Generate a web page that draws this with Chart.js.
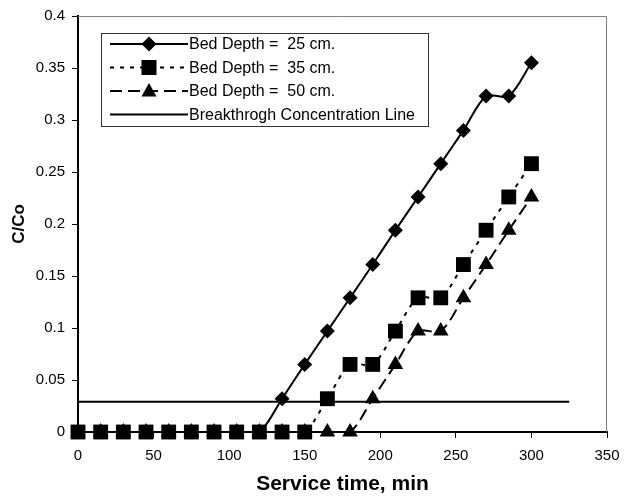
<!DOCTYPE html>
<html>
<head>
<meta charset="utf-8">
<script src="https://cdn.jsdelivr.net/npm/chart.js@4/dist/chart.umd.min.js"></script>
<style>
  html, body { margin: 0; padding: 0; background: #fff; }
  #wrap { width: 635px; height: 501px; }
</style>
</head>
<body>
<div id="wrap"><canvas id="bedChart" width="635" height="501"></canvas></div>
<script>
// DATA
const times = [0, 15, 30, 45, 60, 75, 90, 105, 120, 135, 150, 165, 180, 195, 210, 225, 240, 255, 270, 285, 300];
const depth25 = [0, 0, 0, 0, 0, 0, 0, 0, 0, 0.032, 0.065, 0.097, 0.129, 0.161, 0.194, 0.226, 0.258, 0.290, 0.323, 0.323, 0.355];
const depth35 = [0, 0, 0, 0, 0, 0, 0, 0, 0, 0, 0, 0.032, 0.065, 0.065, 0.097, 0.129, 0.129, 0.161, 0.194, 0.226, 0.258];
const depth50 = [0, 0, 0, 0, 0, 0, 0, 0, 0, 0, 0, 0, 0, 0.032, 0.065, 0.097, 0.097, 0.129, 0.161, 0.194, 0.226];
const breakX = [0, 325];
const breakY = [0.029, 0.029];
const xTicks = [0, 50, 100, 150, 200, 250, 300, 350];
const yTicks = [0, 0.05, 0.1, 0.15, 0.2, 0.25, 0.3, 0.35, 0.4];

const FONT = "'Liberation Sans', Arial, sans-serif";

function pts(xs, ys){
  return xs.map((x, i) => ({x: x, y: ys[i]}));
}

// marker drawing for legend
function marker(ctx, style, x, y){
  ctx.save();
  ctx.fillStyle = "#000";
  ctx.beginPath();
  if(style === "rectRot"){
    ctx.moveTo(x, y - 7.5); ctx.lineTo(x + 7.5, y); ctx.lineTo(x, y + 7.5); ctx.lineTo(x - 7.5, y);
  } else if(style === "rect"){
    ctx.rect(x - 7.5, y - 7.5, 15, 15);
  } else if(style === "triangle"){
    ctx.moveTo(x, y - 8); ctx.lineTo(x + 7.5, y + 5.5); ctx.lineTo(x - 7.5, y + 5.5);
  }
  ctx.closePath();
  if(style) ctx.fill();
  ctx.restore();
}

// LEGEND INSIDE PLOT
const boxLegend = {
  id: "boxLegend",
  afterDatasetsDraw(chart){
    const ctx = chart.ctx;
    const left = 101, top = 33, w = 327, h = 93;
    ctx.save();
    ctx.fillStyle = "#fff";
    ctx.fillRect(left, top, w, h);
    ctx.strokeStyle = "#333";
    ctx.lineWidth = 1;
    ctx.strokeRect(left + 0.5, top + 0.5, w, h);
    chart.data.datasets.forEach((ds, r) => {
      const y = 44 + r * 23.5;
      ctx.save();
      ctx.strokeStyle = "#000";
      ctx.lineWidth = ds.borderWidth;
      ctx.setLineDash(ds.borderDash || []);
      ctx.beginPath();
      ctx.moveTo(110, y);
      ctx.lineTo(188, y);
      ctx.stroke();
      ctx.restore();
      if(ds.pointRadius > 0) marker(ctx, ds.pointStyle, 149, y);
      ctx.fillStyle = "#000";
      ctx.font = "16px " + FONT;
      ctx.textAlign = "left";
      ctx.textBaseline = "middle";
      ctx.fillText(ds.label, 189, y + 1);
    });
    ctx.restore();
  }
};

// FRAME (grey top/right)
const frame = {
  id: "frame",
  beforeDatasetsDraw(chart){
    const a = chart.chartArea;
    const ctx = chart.ctx;
    ctx.save();
    ctx.strokeStyle = "#808080";
    ctx.lineWidth = 1;
    ctx.beginPath();
    ctx.moveTo(a.left, a.top + 0.5);
    ctx.lineTo(a.right - 0.5, a.top + 0.5);
    ctx.lineTo(a.right - 0.5, a.bottom);
    ctx.stroke();
    ctx.restore();
  }
};

new Chart(document.getElementById("bedChart"), {
  type: "scatter",
  data: {
    datasets: [
      {
        label: "Bed Depth =  25 cm.",
        data: pts(times, depth25),
        showLine: true,
        borderColor: "#000",
        backgroundColor: "#000",
        borderWidth: 2,
        pointStyle: "rectRot",
        pointRadius: 7.5,
        pointBorderWidth: 0,
        tension: 0.3,
        clip: false,
        order: 1
      },
      {
        label: "Bed Depth =  35 cm.",
        data: pts(times, depth35),
        showLine: true,
        borderColor: "#000",
        backgroundColor: "#000",
        borderWidth: 2,
        borderDash: [4, 6],
        pointStyle: "rect",
        pointRadius: 10.5,
        pointBorderWidth: 0,
        tension: 0.3,
        clip: false,
        order: 0
      },
      {
        label: "Bed Depth =  50 cm.",
        data: pts(times, depth50),
        showLine: true,
        borderColor: "#000",
        backgroundColor: "#000",
        borderWidth: 2,
        borderDash: [12, 6],
        pointStyle: "triangle",
        pointRadius: 9,
        pointBorderWidth: 0,
        tension: 0.3,
        clip: false,
        order: 2
      },
      {
        label: "Breakthrogh Concentration Line",
        data: pts(breakX, breakY),
        showLine: true,
        borderColor: "#000",
        borderWidth: 2,
        pointRadius: 0,
        order: 3
      }
    ]
  },
  options: {
    responsive: false,
    animation: false,
    layout: { padding: { left: 4, top: 16, right: 28, bottom: 0 } },
    plugins: {
      legend: { display: false },
      tooltip: { enabled: false }
    },
    scales: {
      x: {
        type: "linear",
        min: 0,
        max: 350,
        afterBuildTicks(scale){ scale.ticks = xTicks.map(v => ({value: v})); },
        afterFit(scale){ scale.height = 69; },
        ticks: { color: "#000", font: { family: FONT, size: 15 }, padding: 9, maxRotation: 0 },
        grid: { display: true, drawOnChartArea: false, color: "#000", tickLength: 6, tickWidth: 1 },
        border: { display: true, color: "#000", width: 2 },
        title: { display: true, text: "Service time, min", color: "#000", font: { family: FONT, size: 21, weight: "bold" }, padding: { top: 0, bottom: 4 } }
      },
      y: {
        type: "linear",
        min: 0,
        max: 0.4,
        afterBuildTicks(scale){ scale.ticks = yTicks.map(v => ({value: v})); },
        afterFit(scale){ scale.width = 74; },
        ticks: {
          color: "#000",
          font: { family: FONT, size: 15 },
          padding: 7,
          callback: v => String(parseFloat(v.toFixed(2)))
        },
        grid: { display: true, drawOnChartArea: false, color: "#000", tickLength: 6, tickWidth: 1 },
        border: { display: true, color: "#000", width: 2 },
        title: { display: true, text: "C/Co", color: "#000", font: { family: FONT, size: 17, weight: "bold" }, padding: { top: 5, bottom: 0 } }
      }
    }
  },
  plugins: [frame, boxLegend]
});
</script>
</body>
</html>
